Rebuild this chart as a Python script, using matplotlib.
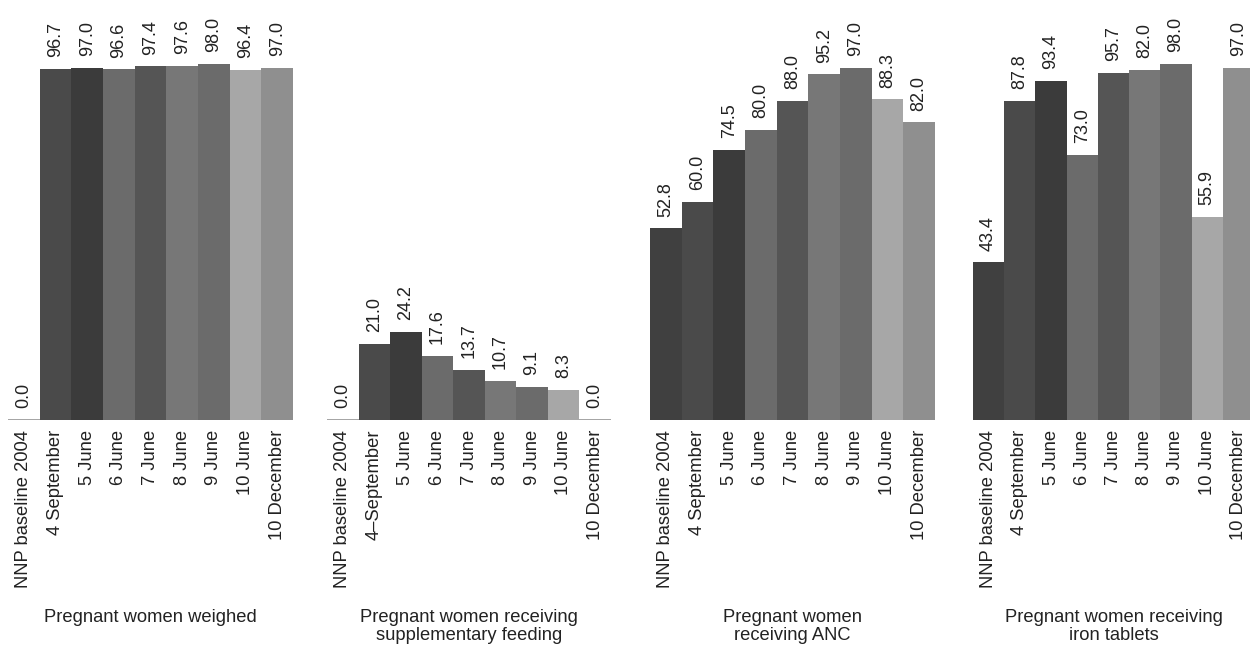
import matplotlib.pyplot as plt
import matplotlib as mpl

mpl.rcParams['font.family'] = ['Liberation Sans', 'DejaVu Sans']

dates = ['NNP baseline 2004', '4 September', '5 June', '6 June', '7 June',
         '8 June', '9 June', '10 June', '10 December']
dates_feeding = ['NNP baseline 2004', '4\u2013September', '5 June', '6 June', '7 June',
                 '8 June', '9 June', '10 June', '10 December']

weighed = [0.0, 96.7, 97.0, 96.6, 97.4, 97.6, 98.0, 96.4, 97.0]
feeding = [0.0, 21.0, 24.2, 17.6, 13.7, 10.7, 9.1, 8.3, 0.0]
anc = [52.8, 60.0, 74.5, 80.0, 88.0, 95.2, 97.0, 88.3, 82.0]
iron = [43.4, 87.8, 93.4, 73.0, 95.7, 96.4, 98.0, 55.9, 97.0]
# the printed label for 8 June in the iron panel says 82.0 although the bar is ~96
iron_labels = ['43.4', '87.8', '93.4', '73.0', '95.7', '82.0', '98.0', '55.9', '97.0']

titles = ['Pregnant women weighed',
          'Pregnant women receiving\nsupplementary feeding',
          'Pregnant women\nreceiving ANC',
          'Pregnant women receiving\niron tablets']

bar_colors = ['#404040', '#4a4a4a', '#3b3b3b', '#6b6b6b', '#555555',
              '#777777', '#6b6b6b', '#a7a7a7', '#8f8f8f']

W, H = 1250, 646
fig = plt.figure(figsize=(W / 100, H / 100), dpi=100)

# panel left edge / width in pixels
panels = [(8, 285), (327, 284), (650, 285), (973, 281)]
base_px = 420
px_per_unit = 3.63

data = [
    (weighed, [f'{v:.1f}' for v in weighed], dates),
    (feeding, [f'{v:.1f}' for v in feeding], dates_feeding),
    (anc, [f'{v:.1f}' for v in anc], dates),
    (iron, iron_labels, dates),
]

for (left, width), (vals, labs, cats), title in zip(panels, data, titles):
    ax = fig.add_axes([left / W, (H - base_px) / H, width / W, base_px / H])
    x = range(len(vals))
    ax.bar(x, vals, width=1.0, color=bar_colors, linewidth=0, zorder=2)
    ax.axhline(0, color='#9c9c9c', lw=2, zorder=1)
    for xi, v, s in zip(x, vals, labs):
        ax.annotate(s, (xi, v), xytext=(0, 8.5), textcoords='offset points',
                    rotation=90, ha='center', va='bottom', fontsize=13,
                    color='#222222')
    ax.set_xlim(-0.5, len(vals) - 0.5)
    ax.set_ylim(0, base_px / px_per_unit)
    ax.set_xticks(list(x))
    ax.set_xticklabels(cats, rotation=90, fontsize=13.2, color='#222222',
                       va='top', ha='center')
    ax.tick_params(axis='x', length=0, pad=7)
    ax.set_yticks([])
    for sp in ax.spines.values():
        sp.set_visible(False)
    ax.patch.set_alpha(0)
    fig.text((left + width / 2) / W, (H - 609) / H, title, ha='center', va='top',
             fontsize=13.2, color='#222222', linespacing=1.1)

fig.savefig('out.png', dpi=100)
